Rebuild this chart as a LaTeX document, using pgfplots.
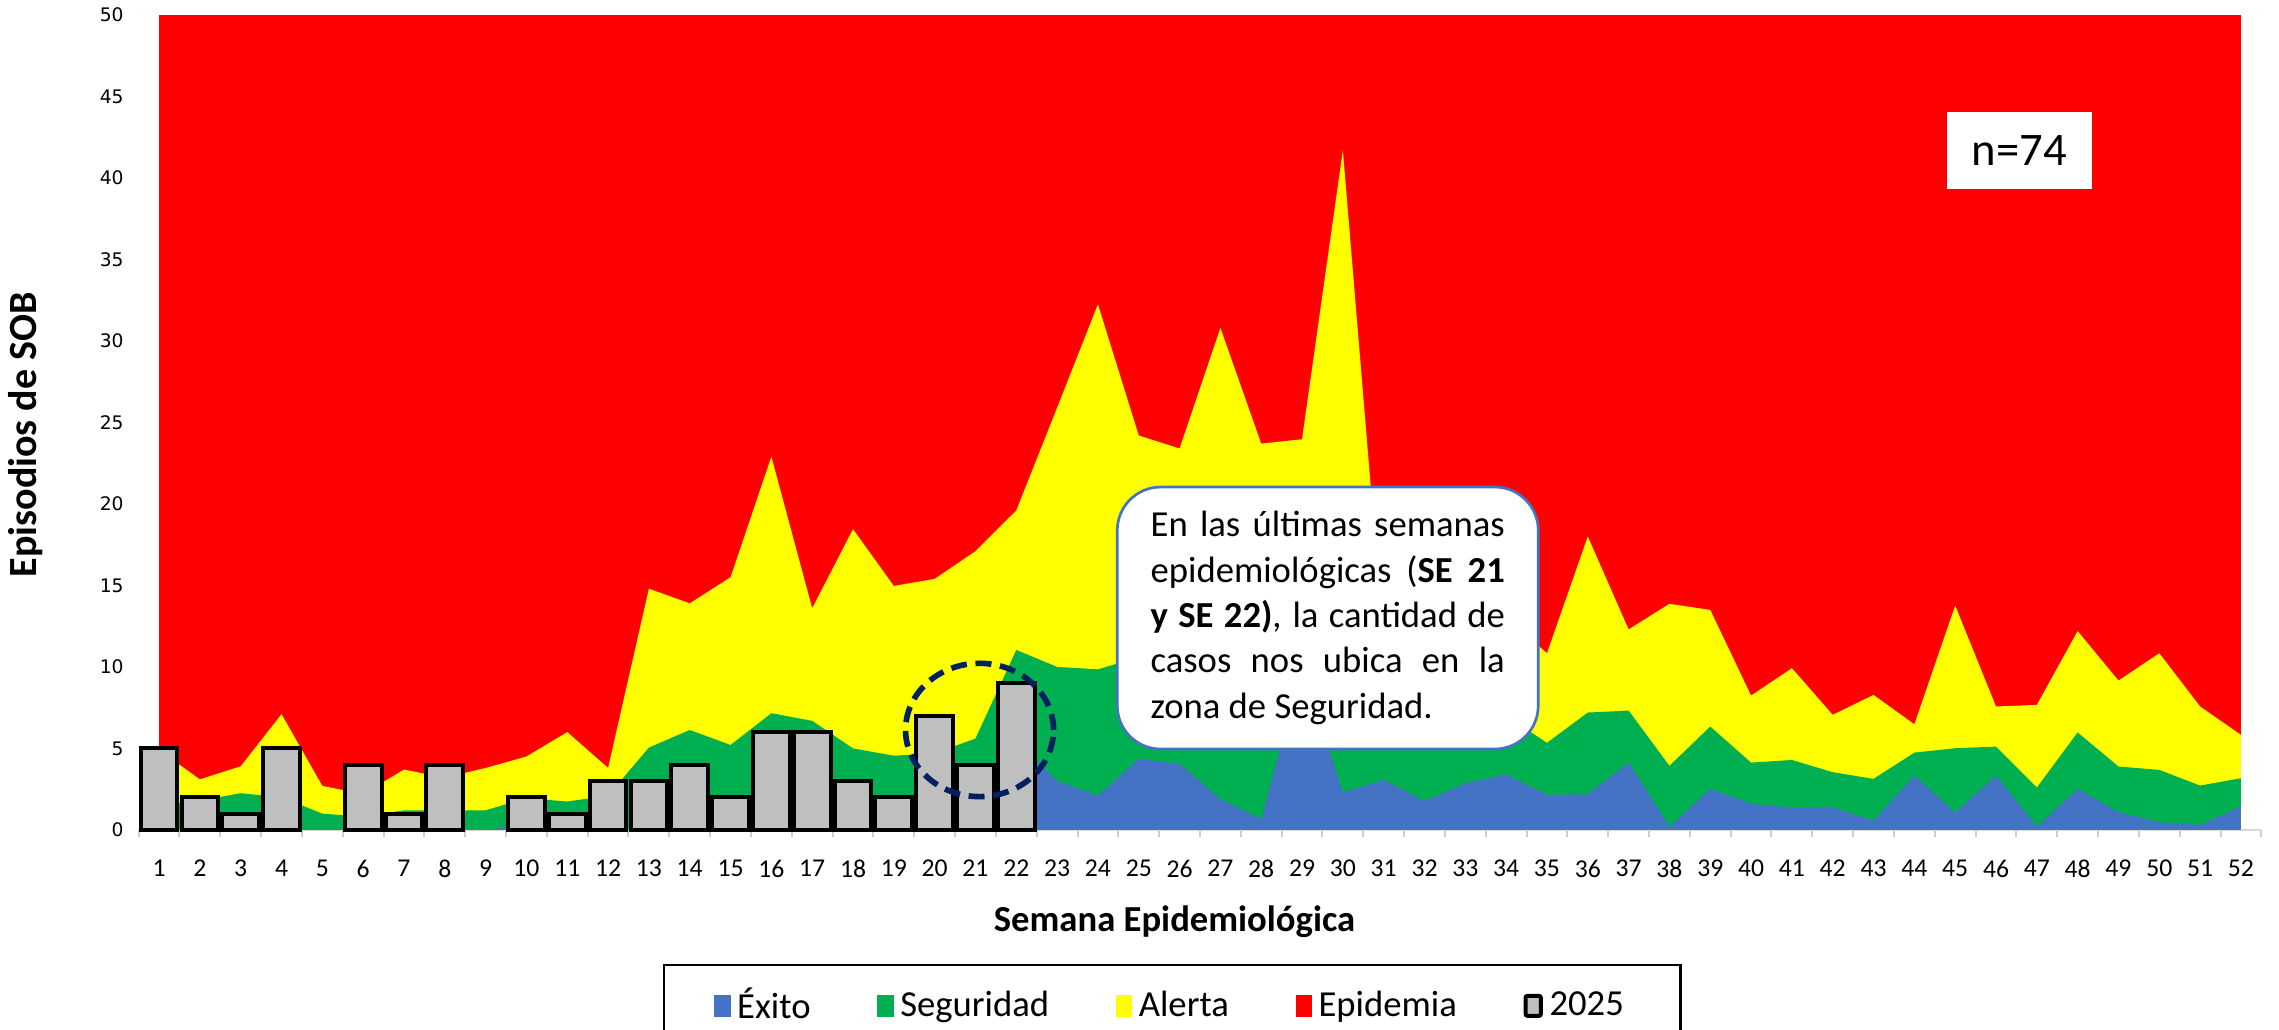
\documentclass[border=0pt]{standalone}
\usepackage{fontspec}
\setmainfont{Carlito}
\newfontfamily\dejavu{DejaVu Sans}
\usepackage{pgfplots}
\pgfplotsset{compat=1.18}
\usepackage{pgfplotstable}
\definecolor{exito}{HTML}{4472C4}
\definecolor{segu}{HTML}{00B050}
\definecolor{alerta}{HTML}{FFFF00}
\definecolor{epid}{HTML}{FF0000}
\definecolor{barg}{HTML}{BFBFBF}
\definecolor{navy}{HTML}{002060}

% upper limit of each zone (cumulative heights)
\pgfplotstableread{
w alerta seguridad exito
1 4.9 1.5 0
2 3.1 1.8 0
3 3.9 2.25 0
4 7.1 2.0 0
5 2.7 1.0 0
6 2.2 0.8 0
7 3.7 1.2 0
8 3.2 1.2 0
9 3.8 1.2 0
10 4.5 1.95 0.3
11 6.0 1.74 0
12 3.8 2.1 0
13 14.8 5.05 0
14 13.9 6.13 0
15 15.5 5.21 0
16 22.9 7.16 0
17 13.6 6.69 0
18 18.45 5.0 0
19 14.97 4.55 0
20 15.4 4.7 0
21 17.1 5.6 0.5
22 19.6 11.04 5.5
23 25.9 10.0 3.0
24 32.25 9.85 2.1
25 24.2 10.6 4.36
26 23.4 9.5 4.05
27 30.8 8.0 1.88
28 23.7 7.0 0.66
29 23.97 11.0 10.0
30 41.7 8.0 2.3
31 11.5 7.0 3.07
32 12.0 6.5 1.77
33 12.5 6.5 2.86
34 13.0 7.0 3.4
35 10.84 5.34 2.15
36 18.0 7.2 2.19
37 12.3 7.32 4.13
38 13.87 3.93 0.2
39 13.5 6.34 2.51
40 8.24 4.13 1.6
41 9.92 4.29 1.37
42 7.06 3.54 1.39
43 8.28 3.13 0.57
44 6.48 4.74 3.33
45 13.76 5.01 1.06
46 7.57 5.11 3.33
47 7.67 2.6 0.2
48 12.2 5.98 2.51
49 9.16 3.89 1.08
50 10.84 3.68 0.47
51 7.57 2.72 0.31
52 5.83 3.17 1.43
}\zonas

\pgfplotstableread{
w casos
1 5
2 2
3 1
4 5
6 4
7 1
8 4
10 2
11 1
12 3
13 3
14 4
15 2
16 6
17 6
18 3
19 2
20 7
21 4
22 9
}\casos

\begin{document}
\begin{tikzpicture}
\path[use as bounding box] (-41.6pt,-60pt) rectangle (642.2pt,249pt);
\begin{axis}[
  at={(0pt,0pt)}, anchor=south west,
  scale only axis, width=636.9pt, height=244.5pt,
  xmin=0.5, xmax=52.5, ymin=0, ymax=50,
  clip=false,
  axis x line*=bottom, axis y line*=left,
  y axis line style={draw=none},
  x axis line style={draw=black!15, line width=0.7pt},
  xtick={1,...,52}, ytick={0,5,...,50},
  minor xtick={0.5,1.5,...,52.5},
  major tick length=0pt, minor tick length=2.2pt,
  tick align=outside,
  major tick style={draw=none},
  minor tick style={draw=black!20, line width=0.6pt},
  /pgf/number format/assume math mode=true,
  xticklabel style={font=\fontsize{7.7}{9}\selectfont, yshift=-5.5pt},
  yticklabel style={font=\dejavu\fontsize{5.6}{6}\selectfont, xshift=-1.0pt},
  xlabel={\textbf{Semana Epidemiológica}},
  xlabel style={font=\fontsize{11}{13}\selectfont, at={(axis description cs:0.488,0)}, anchor=base, yshift=-30.6pt},
  ylabel={\textbf{Episodios de SOB}},
  ylabel style={font=\fontsize{12}{14}\selectfont, at={(axis description cs:0,0.485)}, anchor=center, yshift=33.8pt},
  legend columns=5,
  legend cell align=left,
  legend style={at={(axis description cs:0.487,0)}, anchor=north, yshift=-40.1pt,
    draw=black, line width=0.7pt, inner xsep=15pt, inner ysep=5pt,
    font=\fontsize{11}{13}\selectfont,
    /tikz/every even column/.append style={column sep=18pt}},
]
\addlegendimage{legend image code/.code={\fill[exito] (0pt,-3pt) rectangle (4.2pt,3pt);}}
\addlegendentry{Éxito}
\addlegendimage{legend image code/.code={\fill[segu] (0pt,-3pt) rectangle (4.2pt,3pt);}}
\addlegendentry{Seguridad}
\addlegendimage{legend image code/.code={\fill[alerta] (0pt,-3pt) rectangle (4.2pt,3pt);}}
\addlegendentry{Alerta}
\addlegendimage{legend image code/.code={\fill[epid] (0pt,-3pt) rectangle (4.2pt,3pt);}}
\addlegendentry{Epidemia}
\addlegendimage{legend image code/.code={\draw[fill=barg, line width=1.2pt, rounded corners=0.6pt] (0pt,-3pt) rectangle (4.6pt,3pt);}}
\addlegendentry{2025}

\addplot[forget plot, fill=epid, draw=none] coordinates {(1,50) (52,50)} \closedcycle;
\addplot[forget plot, fill=alerta, draw=none] table[x=w, y=alerta] {\zonas} \closedcycle;
\addplot[forget plot, fill=segu, draw=none] table[x=w, y=seguridad] {\zonas} \closedcycle;
\addplot[forget plot, fill=exito, draw=none] table[x=w, y=exito] {\zonas} \closedcycle;
\addplot[forget plot, ybar, bar width=0.9, fill=barg, draw=black, line width=1.2pt] table[x=w, y=casos] {\casos};

\draw[navy, line width=1.7pt, dash pattern=on 4.8pt off 2.6pt] (axis cs:21.1,6.13) ellipse [x radius=22.2pt, y radius=20pt];

\node[draw=exito, line width=0.8pt, fill=white, rounded corners=13pt, text width=106.3pt, align=justify,
  inner xsep=10pt, inner ysep=0pt, minimum height=78.6pt, font=\fontsize{11}{13.6}\selectfont]
  at (axis cs:29.63,13.0) {En las últimas semanas\linebreak epidemiológicas (\textbf{SE 21}\linebreak \textbf{y SE 22)}, la cantidad de\linebreak casos nos ubica en la\linebreak zona de Seguridad.};

\node[fill=white, minimum width=43.5pt, minimum height=23.1pt, font=\fontsize{14}{16}\selectfont] at (axis cs:46.57,41.69) {n=74};
\end{axis}
\end{tikzpicture}
\end{document}
